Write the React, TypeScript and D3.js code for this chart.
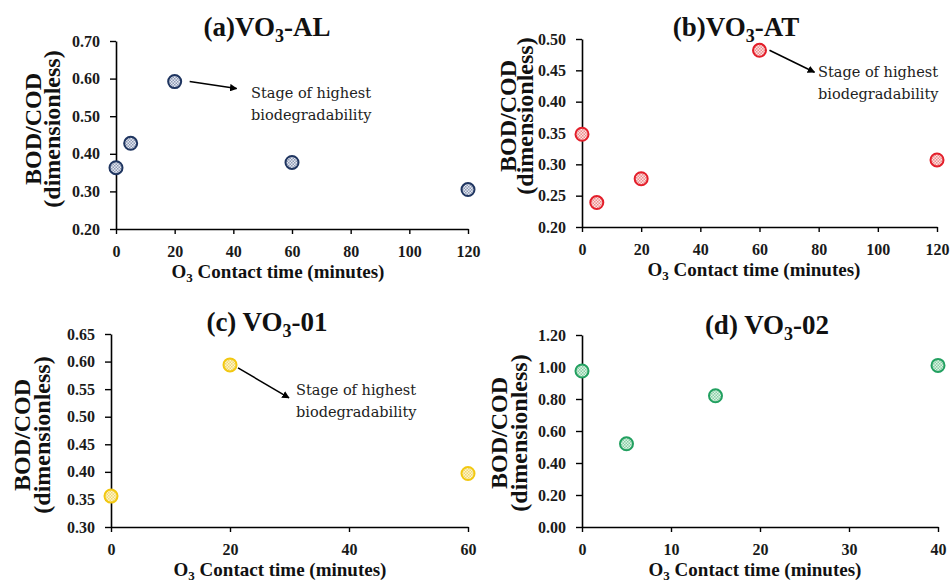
import React, { useEffect, useRef } from 'react';
import * as d3 from 'd3';

// contact times (minutes) and BOD/COD ratios
const timesAL = [0, 5, 20, 60, 120];
const ratioAL = [0.363, 0.428, 0.592, 0.377, 0.305];

const timesAT = [0, 5, 20, 60, 120];
const ratioAT = [0.348, 0.239, 0.277, 0.482, 0.307];

const times01 = [0, 20, 60];
const ratio01 = [0.356, 0.594, 0.397];

const times02 = [0, 5, 15, 40];
const ratio02 = [0.975, 0.52, 0.82, 1.01];

const yTicksAL = [0.2, 0.3, 0.4, 0.5, 0.6, 0.7];
const yTicksAT = [0.2, 0.25, 0.3, 0.35, 0.4, 0.45, 0.5];
const yTicks01 = [0.3, 0.35, 0.4, 0.45, 0.5, 0.55, 0.6, 0.65];
const yTicks02 = [0, 0.2, 0.4, 0.6, 0.8, 1.0, 1.2];

const xTicksLong = [0, 20, 40, 60, 80, 100, 120];
const xTicks01 = [0, 20, 40, 60];
const xTicks02 = [0, 10, 20, 30, 40];

const annotation = ['Stage of highest', 'biodegradability'];

const SERIF = '"Liberation Serif", "Times New Roman", serif';
const NOTE_FONT = '"DejaVu Serif", serif';

type Panel = {
  id: string;
  prefix: string;
  suffix: string;
  times: number[];
  ratios: number[];
  xTicks: number[];
  yTicks: number[];
  stroke: string;
  light: string;
  dot: string;
  box: { left: number; right: number; top: number; bottom: number };
  titleX: number;
  titleY: number;
  xLabelX: number;
  xLabelY: number;
  yLabelOff: [number, number];
  yLabelCy: number;
  note?: { index: number; start: [number, number]; end: [number, number]; text: [number, number] };
};

const panels: Panel[] = [
  {
    id: 'a', prefix: '(a)VO', suffix: '-AL', times: timesAL, ratios: ratioAL,
    xTicks: xTicksLong, yTicks: yTicksAL,
    stroke: '#1f3560', light: '#e6eaf2', dot: '#8c98b4',
    box: { left: 116, right: 468, top: 41, bottom: 229 },
    titleX: 267, titleY: 36, xLabelX: 278, xLabelY: 278,
    yLabelOff: [-75, -56], yLabelCy: 129,
    note: { index: 2, start: [15, 0], end: [62, 7], text: [251, 98] },
  },
  {
    id: 'b', prefix: '(b)VO', suffix: '-AT', times: timesAT, ratios: ratioAT,
    xTicks: xTicksLong, yTicks: yTicksAT,
    stroke: '#e31e2a', light: '#fbe3e3', dot: '#ee8c8c',
    box: { left: 582, right: 937, top: 39, bottom: 227 },
    titleX: 736, titleY: 36, xLabelX: 754, xLabelY: 276,
    yLabelOff: [-66, -49], yLabelCy: 116,
    note: { index: 3, start: [10, 0], end: [55, 22], text: [818, 77] },
  },
  {
    id: 'c', prefix: '(c) VO', suffix: '-01', times: times01, ratios: ratio01,
    xTicks: xTicks01, yTicks: yTicks01,
    stroke: '#f2c811', light: '#fdf4cf', dot: '#f1d970',
    box: { left: 111, right: 468, top: 334, bottom: 527 },
    titleX: 267, titleY: 331, xLabelX: 280, xLabelY: 576,
    yLabelOff: [-81, -61], yLabelCy: 435,
    note: { index: 1, start: [8, 3], end: [59, 33], text: [296, 395] },
  },
  {
    id: 'd', prefix: '(d) VO', suffix: '-02', times: times02, ratios: ratio02,
    xTicks: xTicks02, yTicks: yTicks02,
    stroke: '#22a060', light: '#dff2e6', dot: '#86cfa3',
    box: { left: 582, right: 938, top: 335, bottom: 527 },
    titleX: 767, titleY: 334, xLabelX: 755, xLabelY: 576,
    yLabelOff: [-75, -55], yLabelCy: 433,
  },
];

function App() {
  const ref = useRef<SVGSVGElement>(null);

  useEffect(() => {
    const svg = d3.select(ref.current);
    svg.selectAll('*').remove();

    const defs = svg.append('defs');
    defs
      .append('marker')
      .attr('id', 'arrowHead')
      .attr('viewBox', '0 0 10 10')
      .attr('refX', 9)
      .attr('refY', 5)
      .attr('markerWidth', 5)
      .attr('markerHeight', 5)
      .attr('orient', 'auto')
      .append('path')
      .attr('d', 'M0,0 L10,5 L0,10 z')
      .attr('fill', '#000');

    panels.forEach(p => {
      // checkered fill like the excel pattern markers
      const pat = defs
        .append('pattern')
        .attr('id', `pat-${p.id}`)
        .attr('width', 3)
        .attr('height', 3)
        .attr('patternUnits', 'userSpaceOnUse');
      pat.append('rect').attr('width', 3).attr('height', 3).attr('fill', p.light);
      pat.append('rect').attr('width', 1.5).attr('height', 1.5).attr('fill', p.dot);
      pat.append('rect').attr('x', 1.5).attr('y', 1.5).attr('width', 1.5).attr('height', 1.5).attr('fill', p.dot);

      const x = d3
        .scaleLinear()
        .domain([0, d3.max(p.xTicks) as number])
        .range([p.box.left, p.box.right]);
      const y = d3
        .scaleLinear()
        .domain([d3.min(p.yTicks) as number, d3.max(p.yTicks) as number])
        .range([p.box.bottom, p.box.top]);

      const g = svg.append('g').attr('class', `panel-${p.id}`);

      const yAxis = g
        .append('g')
        .attr('transform', `translate(${p.box.left},0)`)
        .call(d3.axisLeft(y).tickValues(p.yTicks).tickFormat(d3.format('.2f')).tickSize(6).tickPadding(10).tickSizeOuter(0));
      const xAxis = g
        .append('g')
        .attr('transform', `translate(0,${p.box.bottom})`)
        .call(d3.axisBottom(x).tickValues(p.xTicks).tickFormat(d3.format('d')).tickSize(5).tickPadding(12).tickSizeOuter(0));

      [yAxis, xAxis].forEach(ax => {
        ax.select('.domain').attr('stroke', '#000').attr('stroke-width', 1.6);
        ax.selectAll('.tick line').attr('stroke', '#000').attr('stroke-width', 1.4);
        ax.selectAll('.tick text')
          .attr('fill', '#1a1a1a')
          .style('font-family', SERIF)
          .style('font-weight', 'bold')
          .style('font-size', '16px');
      });

      // title with subscript 3
      const title = g
        .append('text')
        .attr('x', p.titleX)
        .attr('y', p.titleY)
        .attr('text-anchor', 'middle')
        .style('font-family', SERIF)
        .style('font-weight', 'bold')
        .style('font-size', '27px')
        .attr('fill', '#111');
      title.append('tspan').text(p.prefix);
      title.append('tspan').attr('dy', 6).style('font-size', '18px').text('3');
      title.append('tspan').attr('dy', -6).text(p.suffix);

      // x label
      const xl = g
        .append('text')
        .attr('x', p.xLabelX)
        .attr('y', p.xLabelY)
        .attr('text-anchor', 'middle')
        .style('font-family', SERIF)
        .style('font-weight', 'bold')
        .style('font-size', '19px')
        .attr('fill', '#111');
      xl.append('tspan').text('O');
      xl.append('tspan').attr('dy', 4).style('font-size', '13px').text('3');
      xl.append('tspan').attr('dy', -4).text(' Contact time (minutes)');

      // y label, two rotated lines
      ['BOD/COD', '(dimensionless)'].forEach((t, i) => {
        g.append('text')
          .attr('transform', `translate(${p.box.left + p.yLabelOff[i]},${p.yLabelCy}) rotate(-90)`)
          .attr('text-anchor', 'middle')
          .style('font-family', SERIF)
          .style('font-weight', 'bold')
          .style('font-size', '24px')
          .attr('fill', '#111')
          .text(t);
      });

      // points
      g.selectAll('circle.pt')
        .data(p.times.map((t, i) => [t, p.ratios[i]]))
        .enter()
        .append('circle')
        .attr('class', 'pt')
        .attr('cx', d => x(d[0]))
        .attr('cy', d => y(d[1]))
        .attr('r', 6.5)
        .attr('fill', `url(#pat-${p.id})`)
        .attr('stroke', p.stroke)
        .attr('stroke-width', 2);

      if (p.note) {
        const n = p.note;
        const px = x(p.times[n.index]);
        const py = y(p.ratios[n.index]);
        g.append('line')
          .attr('x1', px + n.start[0])
          .attr('y1', py + n.start[1])
          .attr('x2', px + n.end[0])
          .attr('y2', py + n.end[1])
          .attr('stroke', '#000')
          .attr('stroke-width', 1.5)
          .attr('marker-end', 'url(#arrowHead)');
        annotation.forEach((line, i) => {
          g.append('text')
            .attr('x', n.text[0])
            .attr('y', n.text[1] + i * 22)
            .style('font-family', NOTE_FONT)
            .style('font-size', '14.5px')
            .attr('fill', '#222')
            .text(line);
        });
      }
    });
  }, []);

  return (
    <svg
      ref={ref}
      width={952}
      height={580}
      style={{ position: 'absolute', left: 0, top: 0, background: '#fff' }}
    />
  );
}

export default App;
